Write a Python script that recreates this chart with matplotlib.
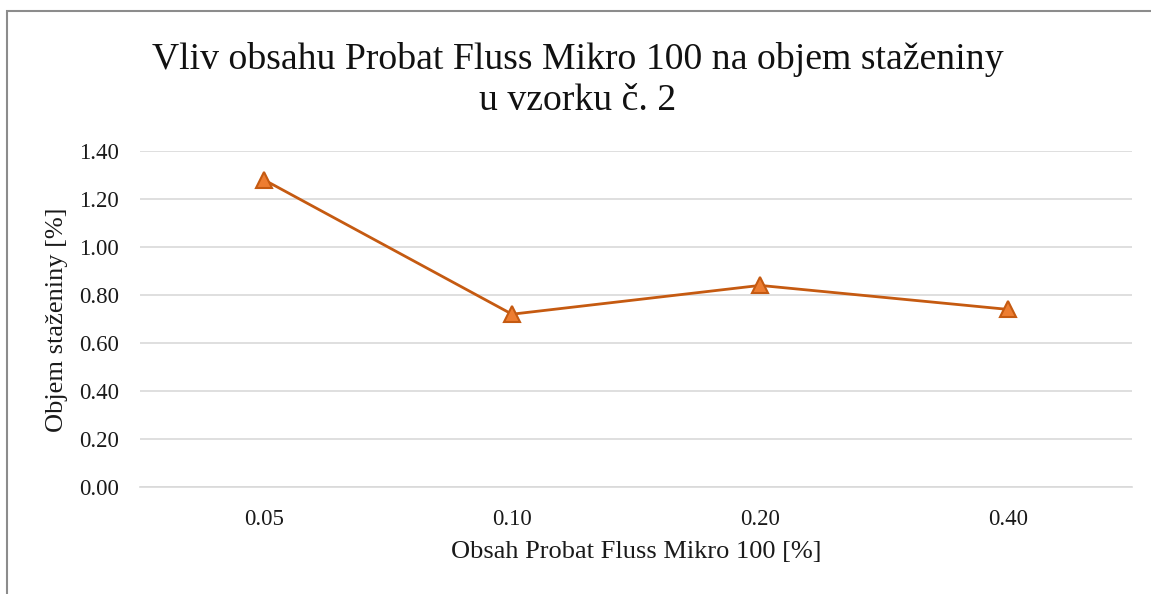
import matplotlib.pyplot as plt
from matplotlib.patches import Rectangle

categories = ['0.05', '0.10', '0.20', '0.40']
values = [1.28, 0.72, 0.84, 0.74]
yticks = [0.0, 0.2, 0.4, 0.6, 0.8, 1.0, 1.2, 1.4]
title_lines = ['Vliv obsahu Probat Fluss Mikro 100 na objem staženiny', 'u vzorku č. 2']

plt.rcParams['font.family'] = ['Liberation Serif', 'DejaVu Serif']

W, H = 1151, 594
fig = plt.figure(figsize=(W / 100, H / 100), dpi=100)

# chart frame (Excel-like border)
fig.patches.append(Rectangle((7 / W, -0.1), 1.2, (H - 11) / H + 0.1,
                             transform=fig.transFigure, fill=False,
                             edgecolor='#8c8c8c', linewidth=1.5))

ax = fig.add_axes([140 / W, 1 - 487 / H, 992 / W, (487 - 151) / H])
x = range(len(categories))
ax.plot(x, values, color='#C55A11', linewidth=2, marker='^', markersize=11.5,
        markerfacecolor='#ED7D31', markeredgecolor='#C55A11', markeredgewidth=1.5,
        zorder=3)

ax.set_xlim(-0.5, len(categories) - 0.5)
ax.set_ylim(0, 1.4)
ax.set_yticks(yticks)
ax.set_yticklabels([f'{v:.2f}' for v in yticks])
ax.set_xticks(list(x))
ax.set_xticklabels(categories)
ax.grid(axis='y', color='#d9d9d9', linewidth=1.2)
ax.set_axisbelow(True)
for s in ['top', 'right', 'left']:
    ax.spines[s].set_visible(False)
ax.spines['bottom'].set_color('#d9d9d9')
ax.spines['bottom'].set_linewidth(1.2)
ax.tick_params(axis='both', length=0, labelsize=16.5, colors='#1a1a1a')
ax.tick_params(axis='y', pad=15)
ax.tick_params(axis='x', pad=16)

fig.text(636 / W, 1 - 552 / H, 'Obsah Probat Fluss Mikro 100 [%]',
         ha='center', va='center', fontsize=19, color='#1a1a1a')
fig.text(57 / W, 1 - 320 / H, 'Objem staženiny [%]', rotation=90,
         ha='center', va='center', fontsize=19, color='#1a1a1a')

# title, two lines placed on their baselines
fig.text(578 / W, 1 - 69 / H, title_lines[0], ha='center', va='baseline',
         fontsize=27.2, color='#111111')
fig.text(578 / W, 1 - 110 / H, title_lines[1], ha='center', va='baseline',
         fontsize=27.2, color='#111111')

fig.savefig('out.png', dpi=100)
